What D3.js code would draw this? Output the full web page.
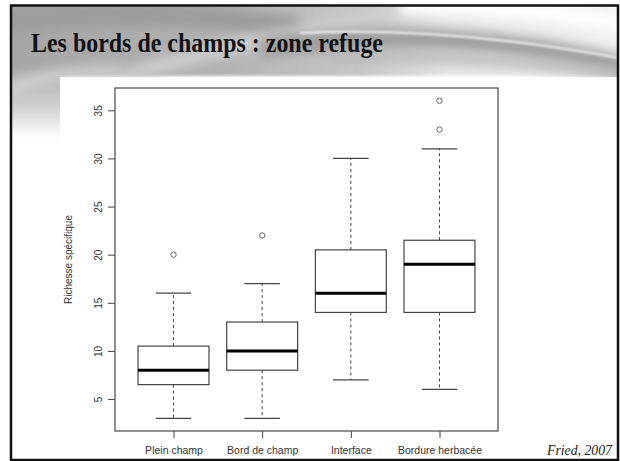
<!DOCTYPE html>
<html><head><meta charset="utf-8">
<script src="https://cdn.jsdelivr.net/npm/d3@7"></script>
<style>html,body{margin:0;padding:0;background:#fff;overflow:hidden}</style>
</head><body><svg id="c" width="620" height="461"></svg>
<script>
// ---- data ----
const categories = ["Plein champ", "Bord de champ", "Interface", "Bordure herbacée"];
const whiskerLow = [3, 3, 7, 6];
const q1 = [6.5, 8, 14, 14];
const median = [8, 10, 16, 19];
const q3 = [10.5, 13, 20.5, 21.5];
const whiskerHigh = [16, 17, 30, 31];
const outliers = [[20], [22], [], [36, 33]];
const yTicks = [5, 10, 15, 20, 25, 30, 35];
const titleText = "Les bords de champs : zone refuge";
const yLabel = "Richesse spécifique";
const sourceText = "Fried, 2007";

const svg = d3.select("#c");
const defs = svg.append("defs");

// ---- slide background ----
const hg = defs.append("linearGradient").attr("id", "hdr").attr("x1", 0).attr("x2", 1).attr("y1", 0).attr("y2", 0);
[["0%", "#a4a4a4"], ["35%", "#b2b2b2"], ["58%", "#c6c6c6"], ["72%", "#e6e6e6"], ["100%", "#f2f2f2"]]
  .forEach(([o, c]) => hg.append("stop").attr("offset", o).attr("stop-color", c));
const lf = defs.append("linearGradient").attr("id", "leftfade").attr("x1", 0).attr("x2", 0).attr("y1", 0).attr("y2", 1);
[["0%", "#a6a6a6"], ["55%", "#cfcfcf"], ["100%", "#ffffff"]].forEach(([o, c]) => lf.append("stop").attr("offset", o).attr("stop-color", c));
function blur(id, s) {
  defs.append("filter").attr("id", id).attr("x", "-20%").attr("y", "-60%").attr("width", "140%").attr("height", "220%")
    .append("feGaussianBlur").attr("stdDeviation", s);
}
blur("b6", 6); blur("b3", 2.5); blur("b1", 1); blur("b2", 1.8);
defs.append("clipPath").attr("id", "frameclip").append("rect").attr("x", 11).attr("y", 5).attr("width", 607).attr("height", 455);

const bg = svg.append("g").attr("clip-path", "url(#frameclip)");
bg.append("rect").attr("x", 11).attr("y", 5).attr("width", 607).attr("height", 455).attr("fill", "#fff");
bg.append("rect").attr("x", -10).attr("y", -10).attr("width", 640).attr("height", 86).attr("fill", "url(#hdr)").attr("filter", "url(#b2)");
// left fade under header
bg.append("rect").attr("x", 0).attr("y", 66).attr("width", 64).attr("height", 72).attr("fill", "url(#leftfade)").attr("filter", "url(#b3)");
// swooshes
bg.append("path").attr("d", "M0,22 Q150,5 300,28").attr("stroke", "#9c9c9c").attr("stroke-width", 22).attr("fill", "none").attr("filter", "url(#b6)");
bg.append("path").attr("d", "M120,78 Q260,34 420,12").attr("stroke", "#cfcfcf").attr("stroke-width", 14).attr("fill", "none").attr("filter", "url(#b6)");
bg.append("path").attr("d", "M0,95 Q40,70 120,72").attr("stroke", "#d6d6d6").attr("stroke-width", 10).attr("fill", "none").attr("filter", "url(#b6)");
bg.append("path").attr("d", "M260,48 Q450,22 640,70").attr("stroke", "#9e9e9e").attr("stroke-width", 20).attr("fill", "none").attr("filter", "url(#b6)");
bg.append("path").attr("d", "M300,33 Q460,26 640,62").attr("stroke", "#f2f2f2").attr("stroke-width", 2).attr("fill", "none").attr("filter", "url(#b1)");
bg.append("path").attr("d", "M330,58 Q480,52 640,78").attr("stroke", "#b8b8b8").attr("stroke-width", 10).attr("fill", "none").attr("filter", "url(#b6)");
bg.append("path").attr("d", "M400,8 Q500,4 640,26").attr("stroke", "#ffffff").attr("stroke-width", 16).attr("fill", "none").attr("filter", "url(#b6)");
// white chart panel
bg.append("rect").attr("x", 60).attr("y", 77).attr("width", 560).attr("height", 390).attr("fill", "#fff");
// frame
svg.append("rect").attr("x", 11).attr("y", 5.5).attr("width", 607).attr("height", 454.5)
  .attr("fill", "none").attr("stroke", "#111").attr("stroke-width", 2.5);

// title
svg.append("text").attr("x", 31).attr("y", 52).text(titleText)
  .attr("font-family", "'Liberation Serif','DejaVu Serif',serif").attr("font-weight", "bold")
  .attr("font-size", 27).attr("fill", "#111")
  .attr("textLength", 352).attr("lengthAdjust", "spacingAndGlyphs");

// source
svg.append("text").attr("x", 612).attr("y", 455).attr("text-anchor", "end").text(sourceText)
  .attr("font-family", "'Liberation Serif','DejaVu Serif',serif").attr("font-style", "italic")
  .attr("font-size", 14).attr("fill", "#222")
  .attr("textLength", 65).attr("lengthAdjust", "spacingAndGlyphs");

// ---- plot ----
const x = d3.scaleLinear().domain([0.34, 4.66]).range([115, 498]);
const y = d3.scaleLinear().domain([1.68, 37.32]).range([431, 88]);
const boxW = x(1.4) - x(1);
const capW = x(1.2) - x(1);
const font = "'Liberation Sans',Arial,sans-serif";

const yAxis = svg.append("g").attr("transform", "translate(115,0)")
  .call(d3.axisLeft(y).tickValues(yTicks).tickSize(7).tickSizeOuter(0).tickFormat(d3.format("d")));
yAxis.select(".domain").remove();
yAxis.selectAll(".tick line").attr("stroke", "#444");
yAxis.selectAll(".tick text").attr("x", 0).attr("dy", 0)
  .attr("transform", "translate(-13,0) rotate(-90)").attr("text-anchor", "middle")
  .attr("font-family", font).attr("font-size", 10).attr("fill", "#333");

const xAxis = svg.append("g").attr("transform", "translate(0,431)")
  .call(d3.axisBottom(x).tickValues([1, 2, 3, 4]).tickSize(7).tickSizeOuter(0).tickFormat((d, i) => categories[i]));
xAxis.select(".domain").remove();
xAxis.selectAll(".tick line").attr("stroke", "#444");
xAxis.selectAll(".tick text").attr("y", 23).attr("dy", 0)
  .attr("font-family", font).attr("font-size", 10.5).attr("fill", "#333");

svg.append("text").attr("transform", `translate(72,${(88 + 431) / 2}) rotate(-90)`)
  .attr("text-anchor", "middle").text(yLabel)
  .attr("font-family", font).attr("font-size", 10).attr("fill", "#333");

const boxes = svg.append("g");
categories.forEach((c, i) => {
  const cx = x(i + 1);
  const g = boxes.append("g");
  g.append("line").attr("x1", cx).attr("x2", cx).attr("y1", y(q3[i])).attr("y2", y(whiskerHigh[i]))
    .attr("stroke", "#444").attr("stroke-dasharray", "3,3");
  g.append("line").attr("x1", cx).attr("x2", cx).attr("y1", y(q1[i])).attr("y2", y(whiskerLow[i]))
    .attr("stroke", "#444").attr("stroke-dasharray", "3,3");
  [whiskerHigh[i], whiskerLow[i]].forEach(v => {
    g.append("line").attr("x1", cx - capW).attr("x2", cx + capW).attr("y1", y(v)).attr("y2", y(v))
      .attr("stroke", "#444").attr("stroke-width", 1.2);
  });
  g.append("rect").attr("x", cx - boxW).attr("width", 2 * boxW)
    .attr("y", y(q3[i])).attr("height", y(q1[i]) - y(q3[i]))
    .attr("fill", "#fff").attr("stroke", "#444").attr("stroke-width", 1.2);
  g.append("line").attr("x1", cx - boxW).attr("x2", cx + boxW).attr("y1", y(median[i])).attr("y2", y(median[i]))
    .attr("stroke", "#000").attr("stroke-width", 3);
  outliers[i].forEach(v => {
    g.append("circle").attr("cx", cx).attr("cy", y(v)).attr("r", 2.7)
      .attr("fill", "none").attr("stroke", "#666").attr("stroke-width", 1);
  });
});

svg.append("rect").attr("x", 115).attr("y", 88).attr("width", 383).attr("height", 343)
  .attr("fill", "none").attr("stroke", "#555").attr("stroke-width", 1.3);
</script></body></html>
